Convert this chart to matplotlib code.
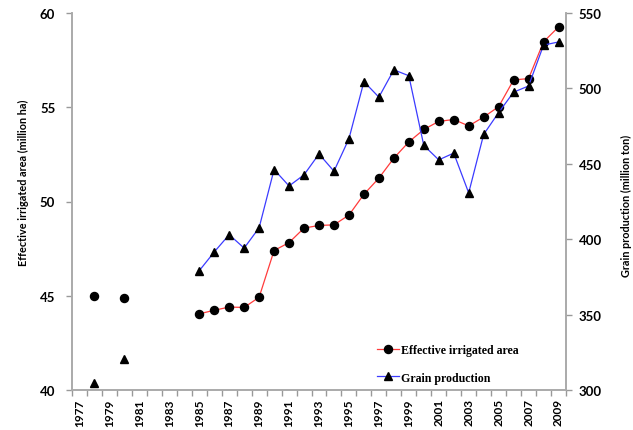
import matplotlib
matplotlib.use("Agg")
import matplotlib.pyplot as plt
from matplotlib import font_manager as fm
import numpy as np

tick_labels = [str(y) for y in range(1977, 2010, 2)]

irr_years = [1978, 1980, 1985, 1986, 1987, 1988, 1989, 1990, 1991, 1992, 1993,
             1994, 1995, 1996, 1997, 1998, 1999, 2000, 2001, 2002, 2003, 2004,
             2005, 2006, 2007, 2008, 2009]
irrigated = [44.97, 44.89, 44.04, 44.23, 44.40, 44.38, 44.92, 47.40, 47.82, 48.59,
             48.73, 48.76, 49.28, 50.38, 51.24, 52.30, 53.16, 53.82, 54.25, 54.35,
             54.01, 54.48, 55.03, 56.45, 56.52, 58.47, 59.26]

grain_years = irr_years
grain = [304.8, 320.6, 379.1, 391.5, 403.0, 394.1, 407.6, 446.2, 435.3, 442.7,
         456.5, 445.1, 466.6, 504.5, 494.2, 512.3, 508.4, 462.2, 452.6, 457.1,
         430.7, 469.5, 484.0, 497.5, 501.6, 528.7, 530.8]


def pick_bold(candidates):
    for fam in candidates:
        try:
            path = fm.findfont(fm.FontProperties(family=fam, weight="bold"), fallback_to_default=False)
        except Exception:
            continue
        if "bold" in path.lower():
            return [fam, "DejaVu Sans"]
    return ["DejaVu Sans"]


LABEL_FONT = pick_bold(["Lato", "Noto Sans", "Open Sans", "Liberation Sans"])
SERIF = ["Liberation Serif", "DejaVu Serif"]

fig = plt.figure(figsize=(6.33, 4.31), dpi=100)
ax = fig.add_axes([72/633, 1 - 391/431, (566-72)/633, (391-14)/431])
ax2 = ax.twinx()

def segments(xs, ys):
    segs = []
    cur_x, cur_y = [xs[0]], [ys[0]]
    for x, y, px in zip(xs[1:], ys[1:], xs[:-1]):
        if x - px == 1:
            cur_x.append(x); cur_y.append(y)
        else:
            segs.append((cur_x, cur_y)); cur_x, cur_y = [x], [y]
    segs.append((cur_x, cur_y))
    return segs

first = True
for sx, sy in segments(irr_years, irrigated):
    ax.plot(sx, sy, color="#ff3b3b", lw=0.9, marker="o", ms=5.8,
            mfc="black", mec="black", label="Effective irrigated area" if first else None, zorder=3)
    first = False
first = True
for sx, sy in segments(grain_years, grain):
    ax2.plot(sx, sy, color="#3b3bff", lw=0.9, marker="^", ms=5.8,
             mfc="black", mec="black", label="Grain production" if first else None, zorder=3)
    first = False

ax.set_xlim(1976.5, 2009.5)
ax.set_ylim(40, 60)
ax2.set_ylim(300, 550)
ax.set_yticks([40, 45, 50, 55, 60])
ax2.set_yticks([300, 350, 400, 450, 500, 550])

ax.set_xticks(np.arange(1976.5, 2010, 1), minor=True)
ax.set_xticks(range(1977, 2010, 2))
ax.set_xticklabels(tick_labels, rotation=90, fontfamily=LABEL_FONT, fontsize=8.5, fontweight="bold")
ax.tick_params(axis="x", which="major", length=0, pad=6)
ax.tick_params(axis="x", which="minor", length=4, width=1, color="#999999", direction="out")

for a, pad in ((ax, 8), (ax2, 5)):
    for lbl in a.get_yticklabels():
        lbl.set_fontfamily(LABEL_FONT); lbl.set_fontsize(9.5); lbl.set_fontweight("bold")
    a.tick_params(axis="y", length=4, width=1, color="#999999", direction="out", pad=pad)
    a.spines["top"].set_visible(False)
    for s in ("left", "right", "bottom"):
        a.spines[s].set_color("#aaaaaa")
        a.spines[s].set_linewidth(1.2)

fig.text(23/633, 1 - 183/431, "Effective irrigated area (million ha)", rotation=90,
         ha="center", va="center", fontfamily=LABEL_FONT, fontsize=7.8, fontweight="bold")
fig.text(626/633, 1 - 206/431, "Grain production (million ton)", rotation=90,
         ha="center", va="center", fontfamily=LABEL_FONT, fontsize=7.8, fontweight="bold")

h1, l1 = ax.get_legend_handles_labels()
h2, l2 = ax2.get_legend_handles_labels()
leg = ax2.legend(h1 + h2, l1 + l2, loc="upper left",
                 bbox_to_anchor=(377/633, 1 - 345/431), bbox_transform=fig.transFigure,
                 borderaxespad=0, borderpad=0,
                 frameon=False, prop={"family": SERIF, "size": 8.6, "weight": "bold"},
                 handlelength=1.85, handletextpad=0.2, labelspacing=1.3)

fig.savefig("out.png", dpi=100)
